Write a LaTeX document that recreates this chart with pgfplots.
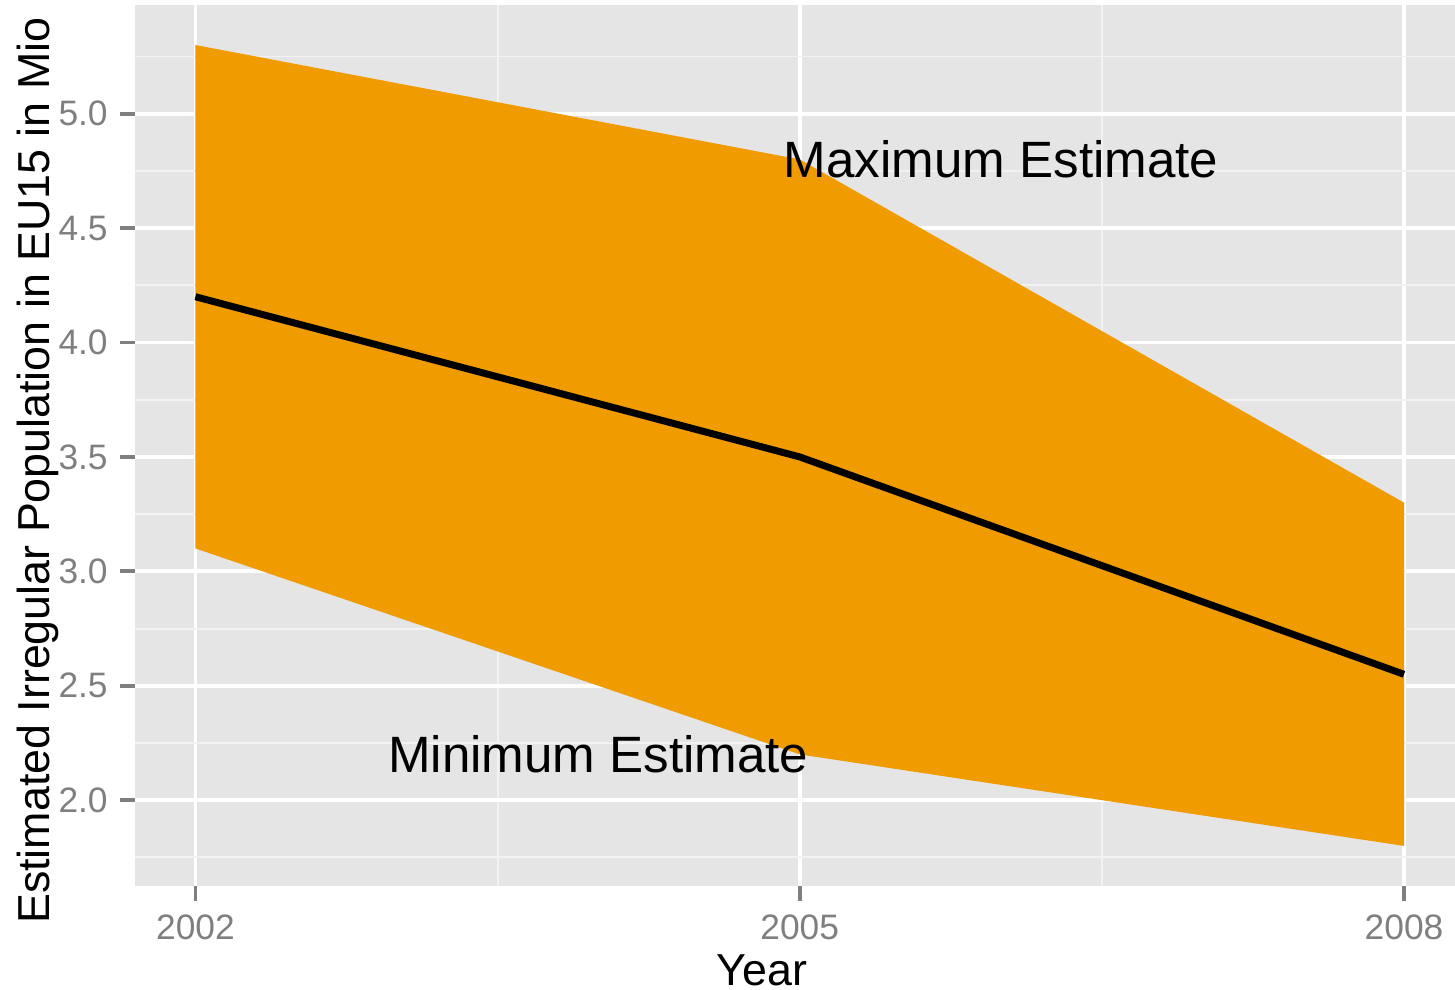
\documentclass[border=0pt]{standalone}
\usepackage{fontspec}
\setmainfont{Liberation Sans}
\usepackage{pgfplots}
\pgfplotsset{compat=1.18}
\usepgfplotslibrary{fillbetween}

\definecolor{ggorange}{RGB}{240,155,0}
\definecolor{panelgrey}{HTML}{E5E5E5}
\definecolor{minorgrey}{HTML}{F2F2F2}
\definecolor{tickgrey}{HTML}{7F7F7F}

\begin{document}
\begin{tikzpicture}
\begin{axis}[
  scale only axis,
  width=377.14pt, height=251.71pt,
  xmin=2001.70, xmax=2008.253,
  ymin=1.625, ymax=5.475,
  axis background/.style={fill=panelgrey},
  axis line style={draw=none},
  xtick={2002,2005,2008},
  ytick={2,2.5,3,3.5,4,4.5,5},
  minor xtick={2003.5,2006.5},
  minor ytick={1.75,2.25,2.75,3.25,3.75,4.25,4.75,5.25},
  xticklabels={2002,2005,2008},
  yticklabels={2.0,2.5,3.0,3.5,4.0,4.5,5.0},
  xtick pos=bottom, ytick pos=left,
  tick align=outside,
  major tick length=4.3pt, minor tick length=0pt,
  major tick style={draw=tickgrey, line width=1.07pt},
  grid=both,
  major grid style={draw=white, line width=1.1pt},
  minor grid style={draw=minorgrey, line width=0.55pt},
  /pgf/number format/assume math mode=true,
  ticklabel style={font=\fontsize{10.1}{12}\selectfont, text=tickgrey},
  xticklabel style={yshift=-0.5pt},
  xlabel={Year},
  ylabel={Estimated Irregular Population in EU15 in Mio},
  label style={font=\fontsize{12.8}{15}\selectfont},
  xlabel style={at={(axis description cs:0.475,-0.1124)}, anchor=base},
  ylabel style={at={(axis description cs:-0.0644,0.4715)}, anchor=base, rotate=0},
  clip=false,
]
\addplot[name path=maxest, draw=none, forget plot] coordinates {(2002,5.3) (2005,4.8) (2008,3.3)};
\addplot[name path=minest, draw=none, forget plot] coordinates {(2002,3.1) (2005,2.2) (2008,1.8)};
\addplot[fill=ggorange, draw=none] fill between[of=maxest and minest];
\addplot[black, line width=2pt] coordinates {(2002,4.2) (2005,3.5) (2008,2.55)};
\node[font=\fontsize{14.6}{17}\selectfont, anchor=center] at (axis cs:2006,4.8) {Maximum Estimate};
\node[font=\fontsize{14.6}{17}\selectfont, anchor=center] at (axis cs:2004,2.2) {Minimum Estimate};
\end{axis}
\pgfresetboundingbox
\path[use as bounding box] ([xshift=-38.57pt,yshift=-29.71pt]current axis.south west) rectangle ([yshift=1.43pt]current axis.north east);
\end{tikzpicture}
\end{document}
